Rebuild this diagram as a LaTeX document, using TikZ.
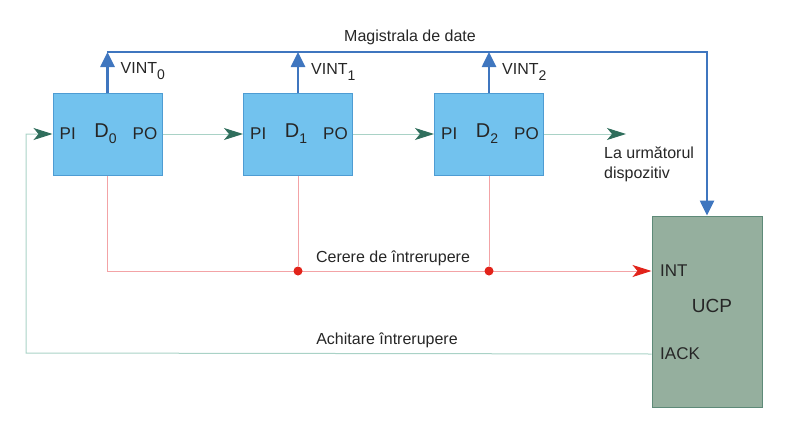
\documentclass[tikz,border=0pt]{standalone}
\usepackage{fontspec}
\setmainfont{Liberation Sans}
\usetikzlibrary{positioning,arrows.meta,calc}
\definecolor{ink}      {HTML}{262626}
\definecolor{devblue}  {HTML}{72C2EE}
\definecolor{devedge}  {HTML}{4E9CD3}
\definecolor{busblue}  {HTML}{3F76BF}
\definecolor{cpugreen} {HTML}{95AF9E}
\definecolor{cpuedge}  {HTML}{5E8A78}
\definecolor{chainline}{HTML}{A9D2C6}
\definecolor{chainhead}{HTML}{2F6E5C}
\definecolor{irqline}  {HTML}{F3A3A6}
\definecolor{irqred}   {HTML}{E2231A}
\newcommand{\subidx}[1]{\raisebox{-6pt}{\fontsize{14}{14}\selectfont #1}}
\tikzset{
  every node/.style={font=\fontsize{16}{20}\selectfont, text=ink},
  % --- nodes
  dev/.style   = {draw=devedge, fill=devblue, line width=1pt, inner sep=0pt,
                  minimum width=109pt, minimum height=82pt},
  cpu/.style   = {draw=cpuedge, fill=cpugreen, line width=1pt, inner sep=0pt,
                  minimum width=110pt, minimum height=191pt},
  port/.style  = {inner sep=0pt, font=\fontsize{17}{20}\selectfont},
  dname/.style = {inner sep=0pt, font=\fontsize{20}{22}\selectfont},
  lbl/.style   = {inner sep=1pt},
  dot/.style   = {circle, fill=irqred, inner sep=0pt, minimum size=9pt},
  % --- edges
  bus/.style   = {draw=busblue, line width=2.6pt,
                  -{Triangle[length=15pt,width=14pt]}},
  chain/.style = {draw=chainline, line width=1pt,
                  -{Stealth[length=19pt,width=12pt,inset=5pt,color=chainhead]}},
  ackw/.style  = {draw=chainline, line width=1pt},
  irq/.style   = {draw=irqline, line width=1pt,
                  -{Stealth[length=19pt,width=12pt,inset=5pt,color=irqred]}},
  irqw/.style  = {draw=irqline, line width=1pt},
}
\begin{document}
\begin{tikzpicture}[x=1pt,y=-1pt]
  \useasboundingbox (0,0) rectangle (787,442);

  % devices and processor
  \node[dev] (d0) at (107.5,134) {};
  \node[dev] (d1) at (298,134) {};
  \node[dev] (d2) at (489,134) {};
  \node[cpu] (ucp) at (707,311.5) {};

  % texts inside the devices
  \foreach \i in {0,1,2}
  {
    \node[port, anchor=west] (pi\i) at ([xshift=7pt]d\i.west) {PI};
    \node[port, anchor=east] (po\i) at ([xshift=-5pt]d\i.east) {PO};
    \node[dname] (dn\i) at ([xshift=-2pt]d\i.center) {D\subidx{\i}};
  }

  % texts inside the processor
  \node[port, anchor=west] (int) at (660,271) {INT};
  \node[port, anchor=west] (iack) at (660,354) {IACK};
  \node[port, font=\fontsize{19}{22}\selectfont] (ucpname) at (712,306) {UCP};

  % data bus
  \coordinate (busl) at (107,52);
  \coordinate (busr) at (707,52);
  \draw[bus] (busl) -- (busr) -- (ucp.north);
  \node[lbl] (buslbl) at (410,37) {Magistrala de date};
  \foreach \i in {0,1,2}
  {
    \draw[bus] (d\i.north) -- (d\i.north |- busl);
    \node[lbl, anchor=west] (vint\i) at ([xshift=12pt,yshift=21pt]d\i.north) {VINT\subidx{\i}};
  }

  % daisy chain
  \coordinate (next) at (626,134);
  \draw[chain] (d0.east) -- (d1.west);
  \draw[chain] (d1.east) -- (d2.west);
  \draw[chain] (d2.east) -- (next);
  \node[lbl, anchor=north west, align=left] (nextlbl) at (603,146) {La următorul\\dispozitiv};

  % acknowledge
  \coordinate (ackcorner) at (26,353);
  \draw[chain] (ucp.west |- iack.west) -- (ackcorner) |- (d0.west);
  \node[lbl] (acklbl) at (387,340) {Achitare întrerupere};

  % interrupt request
  \draw[irq] (d0.south) |- (ucp.west |- int.west);
  \node[dot] (j1) at (d1.south |- int.west) {};
  \node[dot] (j2) at (d2.south |- int.west) {};
  \draw[irqw] (d1.south) -- (j1);
  \draw[irqw] (d2.south) -- (j2);
  \node[lbl] (irqlbl) at (393,258) {Cerere de întrerupere};
\end{tikzpicture}
\end{document}
